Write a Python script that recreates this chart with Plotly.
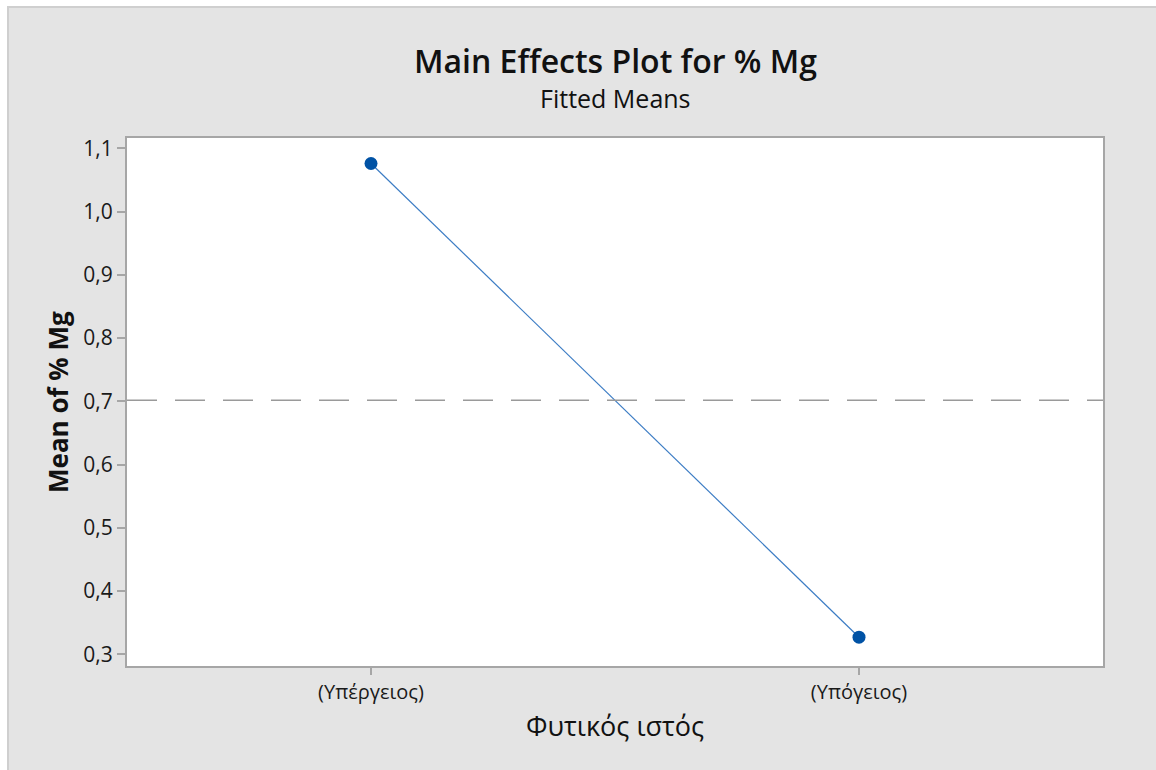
import plotly.graph_objects as go

# Data
categories = ["(Υπέργειος)", "(Υπόγειος)"]
means = [1.076, 0.327]
overall_mean = 0.7015
y_ticks = [0.3, 0.4, 0.5, 0.6, 0.7, 0.8, 0.9, 1.0, 1.1]

W, H = 1156, 770
L, R, T, B = 127, 53, 138, 104
pw, ph = W - L - R, H - T - B

def px_x(px):
    return (px - L) / pw

def px_y(py):
    return 1 - (py - T) / ph

FONT = "Open Sans"

fig = go.Figure()

fig.add_trace(go.Scatter(
    x=categories, y=means, mode="lines+markers",
    line=dict(color="#3b7cc4", width=1.2),
    marker=dict(color="#0052a5", size=13),
    showlegend=False, hoverinfo="skip",
))

# outer gray panel
fig.add_shape(type="rect", xref="paper", yref="paper",
              x0=px_x(8), x1=px_x(W + 5), y0=px_y(H + 5), y1=px_y(7),
              fillcolor="#e4e4e4", line=dict(color="#cfcfcf", width=2), layer="below")
# white plot area
fig.add_shape(type="rect", xref="paper", yref="paper", x0=0, x1=1, y0=0, y1=1,
              fillcolor="white", line=dict(width=0), layer="below")

# reference line at overall mean
fig.add_shape(type="line", xref="paper", yref="y", x0=0, x1=1,
              y0=overall_mean, y1=overall_mean,
              line=dict(color="#9a9a9a", width=1.5, dash="30px,18px"))

fig.add_annotation(text="Main Effects Plot for % Mg", xref="paper", yref="paper",
                   x=px_x(615), y=px_y(60), xanchor="center", yanchor="middle",
                   showarrow=False, font=dict(family=FONT, size=32, color="#111111", weight=600))
fig.add_annotation(text="Fitted Means", xref="paper", yref="paper",
                   x=px_x(615), y=px_y(98), xanchor="center", yanchor="middle",
                   showarrow=False, font=dict(family=FONT, size=25, color="#111111"))
fig.add_annotation(text="Mean of % Mg", xref="paper", yref="paper",
                   x=px_x(58), y=px_y(402), xanchor="center", yanchor="middle", textangle=-90,
                   showarrow=False, font=dict(family=FONT, size=26, color="#111111", weight="bold"))
fig.add_annotation(text="Φυτικός ιστός", xref="paper", yref="paper",
                   x=px_x(615), y=px_y(725), xanchor="center", yanchor="middle",
                   showarrow=False, font=dict(family=FONT, size=27, color="#111111"))

fig.update_layout(
    width=W, height=H,
    margin=dict(l=L, r=R, t=T, b=B),
    paper_bgcolor="white", plot_bgcolor="white",
    separators=",.",
    font=dict(family=FONT, color="#222222"),
    xaxis=dict(type="category", range=[-0.5, 1.5], showgrid=False, zeroline=False,
               showline=True, mirror=True, linecolor="#a6a6a6", linewidth=2,
               ticks="outside", ticklen=7, tickcolor="#a6a6a6", tickwidth=1.5,
               tickfont=dict(size=20, color="#1a1a1a")),
    yaxis=dict(range=[0.2815, 1.1163], showgrid=False, zeroline=False,
               showline=True, mirror=True, linecolor="#a6a6a6", linewidth=2,
               ticks="outside", ticklen=8, tickcolor="#a6a6a6", tickwidth=1.5,
               tickvals=y_ticks, tickformat=".1f",
               tickfont=dict(size=21, color="#1a1a1a")),
)

fig.write_html("out.html")
